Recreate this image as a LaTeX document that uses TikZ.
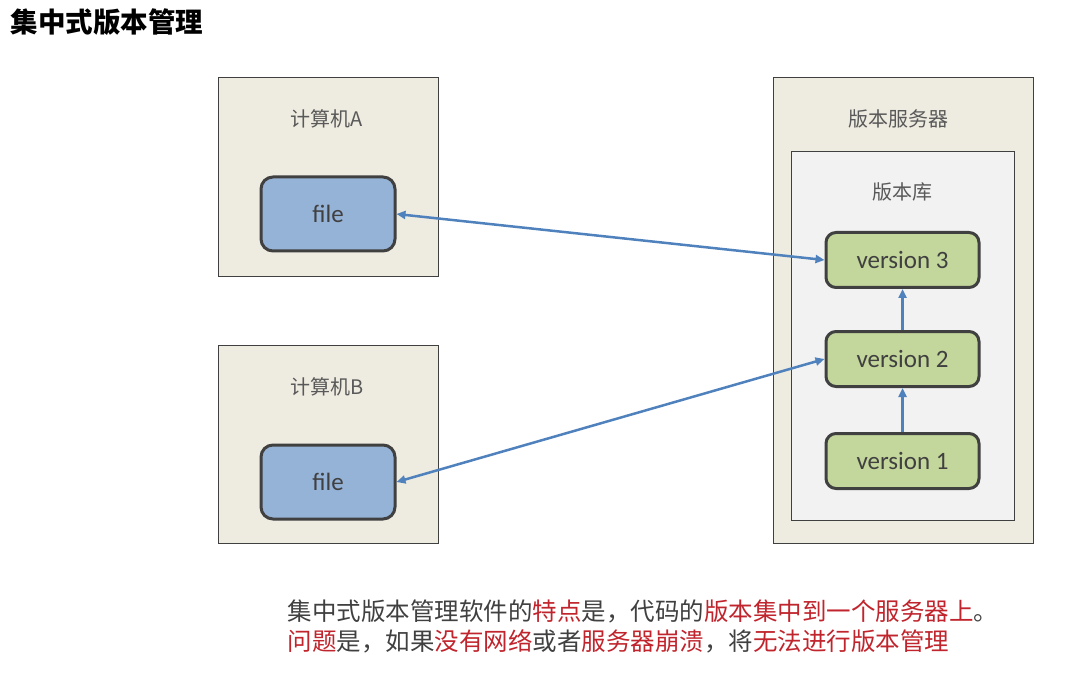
\documentclass[tikz,border=0pt]{standalone}
\usepackage{fontspec}
\setmainfont{Carlito}
\newfontfamily\cjk{Noto Sans CJK SC}
\usetikzlibrary{arrows.meta}
\definecolor{beige}{HTML}{EEEBE0}
\definecolor{inner}{HTML}{F2F2F2}
\definecolor{fileblue}{HTML}{95B3D7}
\definecolor{vgreen}{HTML}{C3D69B}
\definecolor{edge}{HTML}{404040}
\definecolor{lbl}{HTML}{595959}
\definecolor{arr}{HTML}{4F81BD}
\definecolor{hl}{HTML}{C0242C}
\tikzset{
  outerbox/.style={draw=edge, line width=0.9pt, fill=beige},
  innerbox/.style={draw=edge, line width=0.9pt, fill=inner},
  boxlabel/.style={text=lbl, font=\cjk\fontsize{20}{23}\selectfont},
  filenode/.style={draw=edge, line width=3pt, fill=fileblue, rounded corners=12pt,
    minimum width=134pt, minimum height=74pt, text=edge, font=\fontsize{25}{28}\selectfont},
  vnode/.style={draw=edge, line width=3pt, fill=vgreen, rounded corners=10pt,
    minimum width=153pt, minimum height=55pt, text=edge, font=\fontsize{25}{28}\selectfont},
  link/.style={draw=arr, line width=2.5pt, {Triangle[length=9pt,width=8pt]}-{Triangle[length=9pt,width=8pt]}},
  uplink/.style={draw=arr, line width=2.5pt, -{Triangle[length=9pt,width=8pt]}},
  note/.style={anchor=west, text=edge, font=\cjk\fontsize{24.5}{28}\selectfont},
}
\begin{document}
\begin{tikzpicture}[x=1pt,y=-1pt]
\useasboundingbox (0,0) rectangle (1091,684);
% title
\node[anchor=west, font=\cjk\bfseries\fontsize{27.5}{31}\selectfont] (title) at (7,22) {集中式版本管理};
% computer A
\draw[outerbox] (218,77) rectangle (438,276);
\node[boxlabel] (labA) at (327,119) {计算机A};
\node[filenode] (fileA) at (328,214) {file};
% computer B
\draw[outerbox] (218,345) rectangle (438,543);
\node[boxlabel] (labB) at (327,387) {计算机B};
\node[filenode] (fileB) at (328,482) {file};
% server
\draw[outerbox] (773,77) rectangle (1033,543);
\node[boxlabel] (labS) at (898,119) {版本服务器};
\draw[innerbox] (791,151) rectangle (1014,520);
\node[boxlabel] (labR) at (902,192) {版本库};
\node[vnode] (v3) at (902.5,260) {version 3};
\node[vnode] (v2) at (902.5,359) {version 2};
\node[vnode] (v1) at (902.5,461) {version 1};
% connectors
\draw[link] (fileA.east) -- (v3.west);
\draw[link] (fileB.east) -- (v2.west);
\draw[uplink] (v1.north) -- (v2.south);
\draw[uplink] (v2.north) -- (v3.south);
% bottom text
\node[note] (t1) at (284,611)
  {集中式版本管理软件的\textcolor{hl}{特点}是，代码的\textcolor{hl}{版本集中到一个服务器上}。};
\node[note] (t2) at (284,641)
  {\textcolor{hl}{问题}是，如果\textcolor{hl}{没有网络}或者\textcolor{hl}{服务器崩溃}，将\textcolor{hl}{无法进行版本管理}};
\end{tikzpicture}
\end{document}
